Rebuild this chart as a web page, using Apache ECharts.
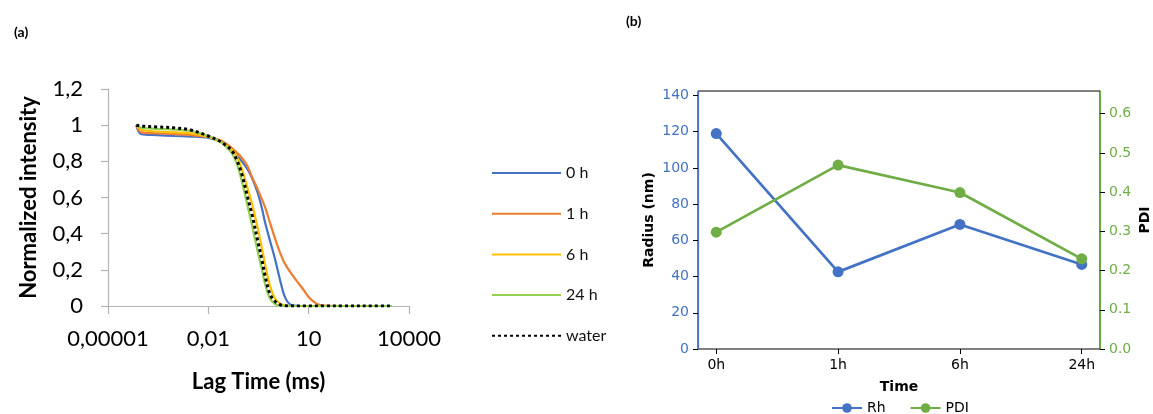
<!DOCTYPE html>
<html>
<head>
<meta charset="utf-8">
<script src="https://cdn.jsdelivr.net/npm/echarts@6/dist/echarts.min.js"></script>
<style>
  html, body { margin: 0; padding: 0; background: #fff; }
  #chart { width: 1153px; height: 414px; }
</style>
</head>
<body>
<div id="chart"></div>
<script>
// (a) correlation curves: lag time (ms) and normalized intensity per sample
const lagTimes = [0.00007, 0.0001, 0.0003, 0.001, 0.003, 0.01, 0.02, 0.03, 0.05, 0.07,
  0.1, 0.15, 0.2, 0.3, 0.4, 0.5, 0.7, 1, 1.5, 2, 3, 5, 7, 10, 15, 20, 30, 100, 1000, 3000];
const curve0h = [1.0, 0.95, 0.945, 0.94, 0.937, 0.93, 0.915, 0.9, 0.865, 0.835,
  0.8, 0.755, 0.71, 0.625, 0.54, 0.46, 0.36, 0.255, 0.12, 0.045, 0.005, 0, 0, 0, 0, 0, 0, 0, 0, 0];
const curve1h = [1.0, 0.96, 0.955, 0.95, 0.945, 0.935, 0.92, 0.905, 0.875, 0.85,
  0.82, 0.772, 0.715, 0.645, 0.59, 0.545, 0.46, 0.37, 0.28, 0.23, 0.18, 0.125, 0.09, 0.05, 0.02, 0.008, 0.002, 0, 0, 0];
const curve6h = [1.0, 0.975, 0.965, 0.96, 0.955, 0.935, 0.912, 0.895, 0.865, 0.83,
  0.76, 0.65, 0.57, 0.43, 0.32, 0.23, 0.11, 0.04, 0.01, 0.003, 0, 0, 0, 0, 0, 0, 0, 0, 0, 0];
const curve24h = [1.0, 0.985, 0.98, 0.975, 0.968, 0.94, 0.915, 0.89, 0.845, 0.79,
  0.69, 0.55, 0.45, 0.30, 0.20, 0.12, 0.04, 0.01, 0.002, 0, 0, 0, 0, 0, 0, 0, 0, 0, 0, 0];
const curveWater = [1.0, 0.995, 0.99, 0.985, 0.973, 0.94, 0.915, 0.895, 0.86, 0.81,
  0.73, 0.60, 0.51, 0.36, 0.255, 0.165, 0.065, 0.025, 0.005, 0.001, 0, 0, 0, 0, 0, 0, 0, 0, 0, 0];
const curveNames = ['0 h', '1 h', '6 h', '24 h', 'water'];
const lagTickValues = [0.00001, 0.01, 10, 10000];
const lagTickLabels = ['0,00001', '0,01', '10', '10000'];

// (b) hydrodynamic radius and PDI over time
const timeLabels = ['0h', '1h', '6h', '24h'];
const radiusNm = [119, 42.6, 68.8, 46.7];
const pdiValues = [0.298, 0.469, 0.399, 0.23];

const calibri = 'Lato, "Open Sans", sans-serif';
const mpl = '"DejaVu Sans", sans-serif';
const BLUE = '#4472C4', ORANGE = '#ED7D31', YELLOW = '#FFC000', LGREEN = '#92D050', GREEN = '#70AD47';

const pairs = ys => lagTimes.map((t, i) => [t, ys[i]]);
const curveLine = (name, ys, color, type) => ({
  name, type: 'line', xAxisIndex: 0, yAxisIndex: 0, data: pairs(ys),
  showSymbol: false, symbol: 'none', smooth: 0.35,
  lineStyle: { color, width: type ? 3 : 2.2, type: type || 'solid', cap: 'butt' },
  itemStyle: { color }, z: type ? 5 : 3
});

const chart = echarts.init(document.getElementById('chart'), null, { renderer: 'canvas' });
chart.setOption({
  animation: false,
  backgroundColor: '#fff',
  title: [
    { text: '(a)', left: 9, top: 20, textStyle: { fontFamily: calibri, fontWeight: 'bold', fontSize: 14, color: '#000' } },
    { text: '(b)', left: 621, top: 9, textStyle: { fontFamily: calibri, fontWeight: 'bold', fontSize: 14, color: '#000' } }
  ],
  legend: [
    {
      data: curveNames, orient: 'vertical', left: 486, top: 160,
      itemWidth: 69, itemHeight: 14, itemGap: 24.7,
      itemStyle: { color: 'transparent', borderWidth: 0, opacity: 0 },
      textStyle: { fontFamily: calibri, fontSize: 16, color: '#111' },
      selectedMode: false
    },
    {
      data: ['Rh', 'PDI'], orient: 'horizontal', left: 826, top: 396,
      itemWidth: 30, itemHeight: 12, itemGap: 24,
      textStyle: { fontFamily: mpl, fontSize: 14, color: '#000' },
      selectedMode: false
    }
  ],
  grid: [
    { left: 108, right: 744, top: 89, bottom: 108, containLabel: false },
    { left: 698, right: 51, top: 91, bottom: 65, containLabel: false,
      show: true, borderColor: '#000', borderWidth: 1, backgroundColor: 'transparent' }
  ],
  xAxis: [
    {
      gridIndex: 0, type: 'log', logBase: 10, min: 0.00001, max: 10000,
      name: 'Lag Time (ms)', nameLocation: 'middle', nameGap: 65,
      nameTextStyle: { fontFamily: calibri, fontWeight: 'bold', fontSize: 22, color: '#000' },
      axisLine: { lineStyle: { color: '#b4b4b4', width: 1.2 } },
      axisTick: { show: true, length: 8, customValues: lagTickValues, lineStyle: { color: '#b4b4b4', width: 1.2 } },
      axisLabel: {
        customValues: lagTickValues, margin: 22,
        fontFamily: calibri, fontSize: 22, color: '#000',
        formatter: v => {
          const i = lagTickValues.findIndex(t => Math.abs(Math.log10(t) - Math.log10(v)) < 1e-6);
          return i >= 0 ? lagTickLabels[i] : '';
        }
      },
      splitLine: { show: false }, minorTick: { show: false }
    },
    {
      gridIndex: 1, type: 'value', min: -0.15, max: 3.15,
      name: 'Time', nameLocation: 'middle', nameGap: 31,
      nameTextStyle: { fontFamily: mpl, fontWeight: 'bold', fontSize: 14, color: '#000' },
      axisLine: { show: false },
      axisTick: { show: true, length: 5, customValues: [0, 1, 2, 3], lineStyle: { color: '#000' } },
      axisLabel: {
        customValues: [0, 1, 2, 3], margin: 9,
        fontFamily: mpl, fontSize: 14, color: '#000',
        formatter: v => timeLabels[Math.round(v)]
      },
      splitLine: { show: false }
    }
  ],
  yAxis: [
    {
      gridIndex: 0, type: 'value', min: 0, max: 1.2, interval: 0.2,
      name: 'Normalized intensity', nameLocation: 'middle', nameGap: 68, nameRotate: 90,
      nameTextStyle: { fontFamily: calibri, fontWeight: 'bold', fontSize: 22, color: '#000' },
      axisLine: { show: true, onZero: false, lineStyle: { color: '#b4b4b4', width: 1.2 } },
      axisTick: { show: true, length: 7, lineStyle: { color: '#b4b4b4', width: 1.2 } },
      axisLabel: {
        margin: 25, fontFamily: calibri, fontSize: 22, color: '#000',
        formatter: v => String(Math.round(v * 10) / 10).replace('.', ',')
      },
      splitLine: { show: false }
    },
    {
      gridIndex: 1, type: 'value', position: 'left', min: 0, max: 142.5, interval: 20,
      name: 'Radius (nm)', nameLocation: 'middle', nameGap: 42, nameRotate: 90,
      nameTextStyle: { fontFamily: mpl, fontWeight: 'bold', fontSize: 14, color: '#000' },
      axisLine: { show: true, onZero: false, lineStyle: { color: BLUE, width: 1.2 } },
      axisTick: { show: true, length: 5, lineStyle: { color: '#000' } },
      axisLabel: { margin: 9, fontFamily: mpl, fontSize: 14, color: BLUE, showMaxLabel: false },
      splitLine: { show: false }
    },
    {
      gridIndex: 1, type: 'value', position: 'right', min: 0, max: 0.658, interval: 0.1,
      name: 'PDI', nameLocation: 'middle', nameGap: 38, nameRotate: 90,
      nameTextStyle: { fontFamily: mpl, fontWeight: 'bold', fontSize: 14, color: '#000' },
      axisLine: { show: true, onZero: false, lineStyle: { color: GREEN, width: 1.2 } },
      axisTick: { show: true, length: 5, lineStyle: { color: '#000' } },
      axisLabel: { margin: 9, fontFamily: mpl, fontSize: 14, color: GREEN, showMaxLabel: false,
        formatter: v => v.toFixed(1) },
      splitLine: { show: false }
    }
  ],
  series: [
    curveLine(curveNames[0], curve0h, BLUE),
    curveLine(curveNames[1], curve1h, ORANGE),
    curveLine(curveNames[2], curve6h, YELLOW),
    curveLine(curveNames[3], curve24h, LGREEN),
    curveLine(curveNames[4], curveWater, '#000', [3, 3]),
    {
      name: 'Rh', type: 'line', xAxisIndex: 1, yAxisIndex: 1,
      data: radiusNm.map((v, i) => [i, v]),
      symbol: 'circle', symbolSize: 11, showSymbol: true,
      lineStyle: { color: BLUE, width: 2.7 }, itemStyle: { color: BLUE }
    },
    {
      name: 'PDI', type: 'line', xAxisIndex: 1, yAxisIndex: 2,
      data: pdiValues.map((v, i) => [i, v]),
      symbol: 'circle', symbolSize: 11, showSymbol: true,
      lineStyle: { color: GREEN, width: 2.7 }, itemStyle: { color: GREEN }
    }
  ]
});
</script>
</body>
</html>
